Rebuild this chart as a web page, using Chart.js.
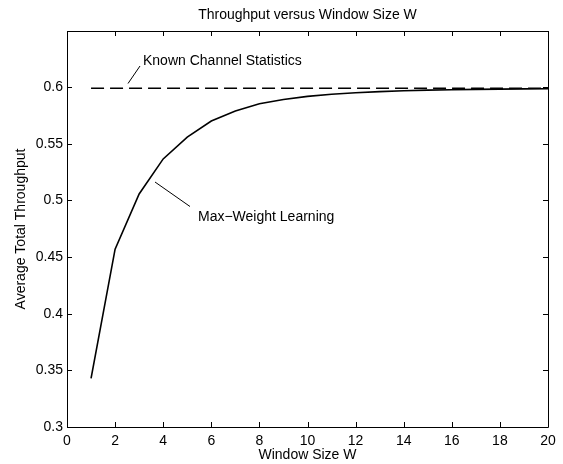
<!DOCTYPE html>
<html>
<head>
<meta charset="utf-8">
<script src="https://cdn.jsdelivr.net/npm/chart.js@4/dist/chart.umd.min.js"></script>
<style>
  html, body { margin: 0; padding: 0; background: #fff; }
  canvas { display: block; }
</style>
</head>
<body>
<canvas id="c" width="563" height="464"></canvas>
<script>
// Window sizes W and the average throughput achieved by each policy
const windowSizes = [1, 2, 3, 4, 5, 6, 7, 8, 9, 10, 11, 12, 13, 14, 15, 16, 17, 18, 19, 20];
const maxWeightLearning = [0.343, 0.457, 0.5057, 0.5366, 0.5558, 0.570, 0.5788, 0.5853, 0.589, 0.5918,
                           0.5937, 0.5950, 0.5960, 0.5967, 0.5973, 0.5977, 0.5980, 0.5982, 0.5984, 0.5985];
const knownChannelStatistics = 0.599;
const xTicks = [0, 2, 4, 6, 8, 10, 12, 14, 16, 18, 20];
const yTicks = [0.3, 0.35, 0.4, 0.45, 0.5, 0.55, 0.6];

const FONT = '"Liberation Sans", Arial, Helvetica, sans-serif';

const curvePoints = windowSizes.map((w, i) => ({ x: w, y: maxWeightLearning[i] }));
const knownPoints = [
  { x: windowSizes[0], y: knownChannelStatistics },
  { x: windowSizes[windowSizes.length - 1], y: knownChannelStatistics }
];

// Box around the plot, inward ticks on all four sides, title, axis titles and callouts
const framePlugin = {
  id: 'frame',
  afterDraw(chart) {
    const ctx = chart.ctx;
    const a = chart.chartArea;
    const xs = chart.scales.x, ys = chart.scales.y;
    const tl = 5;
    ctx.save();
    ctx.strokeStyle = '#000';
    ctx.lineWidth = 1;
    ctx.beginPath();
    ctx.rect(Math.round(a.left) + 0.5, Math.round(a.top) + 0.5,
             Math.round(a.right - a.left), Math.round(a.bottom - a.top));
    ctx.stroke();
    ctx.beginPath();
    xTicks.forEach(v => {
      const px = Math.round(xs.getPixelForValue(v)) + 0.5;
      ctx.moveTo(px, a.bottom); ctx.lineTo(px, a.bottom - tl);
      ctx.moveTo(px, a.top); ctx.lineTo(px, a.top + tl);
    });
    yTicks.forEach(v => {
      const py = Math.round(ys.getPixelForValue(v)) + 0.5;
      ctx.moveTo(a.left, py); ctx.lineTo(a.left + tl, py);
      ctx.moveTo(a.right, py); ctx.lineTo(a.right - tl, py);
    });
    ctx.stroke();

    ctx.fillStyle = '#000';
    ctx.font = '14px ' + FONT;
    ctx.textAlign = 'center';
    ctx.textBaseline = 'middle';
    ctx.fillText('Throughput versus Window Size W', (a.left + a.right) / 2, 15);
    ctx.fillText('Window Size W', (a.left + a.right) / 2, 455);
    ctx.save();
    ctx.translate(21, (a.top + a.bottom) / 2);
    ctx.rotate(-Math.PI / 2);
    ctx.fillText('Average Total Throughput', 0, 0);
    ctx.restore();

    // Callout labels with short leader lines
    ctx.textAlign = 'left';
    ctx.fillText('Known Channel Statistics', 143, 61);
    ctx.fillText('Max\u2212Weight Learning', 198, 217);
    ctx.lineWidth = 1;
    ctx.beginPath();
    ctx.moveTo(128, 83.5); ctx.lineTo(140, 66);
    ctx.moveTo(155, 182); ctx.lineTo(190, 206.5);
    ctx.stroke();
    ctx.restore();
  }
};

new Chart(document.getElementById('c'), {
  type: 'line',
  data: {
    datasets: [
      {
        label: 'Max-Weight Learning',
        data: curvePoints,
        borderColor: '#000',
        borderWidth: 1.6,
        pointRadius: 0,
        tension: 0,
        fill: false
      },
      {
        label: 'Known Channel Statistics',
        data: knownPoints,
        borderColor: '#000',
        borderWidth: 1.6,
        borderDash: [13, 6],
        pointRadius: 0,
        fill: false
      }
    ]
  },
  options: {
    responsive: false,
    animation: false,
    devicePixelRatio: 1,
    layout: { padding: { top: 31, right: 15, left: 0, bottom: 0 } },
    plugins: {
      legend: { display: false },
      title: { display: false },
      tooltip: { enabled: false }
    },
    scales: {
      x: {
        type: 'linear',
        min: 0,
        max: 20,
        grid: { display: false, drawTicks: false },
        border: { display: false },
        afterBuildTicks(scale) { scale.ticks = xTicks.map(v => ({ value: v })); },
        afterFit(scale) { scale.height = 37; },
        ticks: {
          padding: 6,
          maxRotation: 0,
          color: '#000',
          font: { family: FONT, size: 14 },
          callback: v => String(v)
        }
      },
      y: {
        type: 'linear',
        min: 0.3,
        max: 0.6495,
        grid: { display: false, drawTicks: false },
        border: { display: false },
        afterBuildTicks(scale) { scale.ticks = yTicks.map(v => ({ value: v })); },
        afterFit(scale) { scale.width = 67; },
        ticks: {
          padding: 4,
          color: '#000',
          font: { family: FONT, size: 14 },
          callback: v => String(+v.toFixed(2))
        }
      }
    }
  },
  plugins: [framePlugin]
});
</script>
</body>
</html>
